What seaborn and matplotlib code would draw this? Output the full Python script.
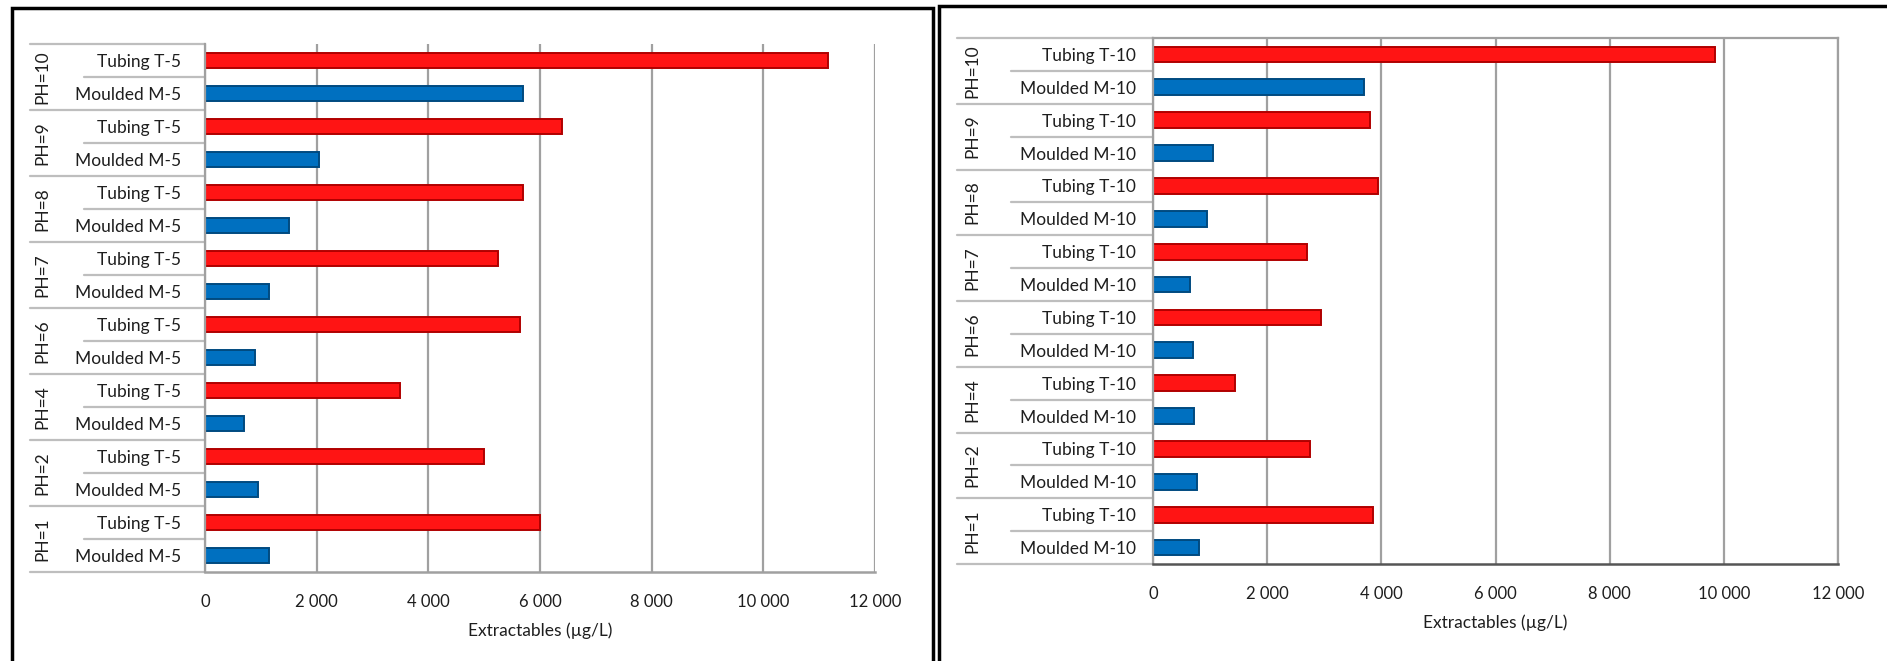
import matplotlib
matplotlib.use("Agg")
import matplotlib.pyplot as plt
from matplotlib.patches import Rectangle
from matplotlib.colors import to_hex
from matplotlib.ticker import FuncFormatter
import seaborn as sns
import pandas as pd

# --- data ---
ph_levels = ["PH=10", "PH=9", "PH=8", "PH=7", "PH=6", "PH=4", "PH=2", "PH=1"]

tubing_t5 = [11150, 6400, 5700, 5250, 5650, 3500, 5000, 6000]
moulded_m5 = [5700, 2050, 1500, 1150, 900, 700, 950, 1150]

tubing_t10 = [9850, 3800, 3950, 2700, 2950, 1430, 2750, 3850]
moulded_m10 = [3700, 1050, 950, 650, 700, 720, 770, 800]

x_ticks = [0, 2000, 4000, 6000, 8000, 10000, 12000]
x_label = "Extractables (\u00b5g/L)"

RED = "#FF1414"
BLUE = "#0070C0"
EDGE = {to_hex(RED): "#B00000", to_hex(BLUE): "#004A80"}
GRID = "#A0A0A0"
SEP = "#BEBEBE"
TXT = "#1E1E1E"


def build_frame(tubing, moulded, t_name, m_name):
    rows = []
    for ph, t, m in zip(ph_levels, tubing, moulded):
        rows.append({"row": f"{ph}|T", "ph": ph, "material": "Tubing",
                     "label": t_name, "value": t})
        rows.append({"row": f"{ph}|M", "ph": ph, "material": "Moulded",
                     "label": m_name, "value": m})
    return pd.DataFrame(rows)


def draw_panel(ax, df, lab_pad, ph_x, grp_x, sub_x, boxed):
    order = list(df["row"])
    sns.barplot(data=df, x="value", y="row", hue="material", order=order,
                palette={"Tubing": RED, "Moulded": BLUE}, dodge=False,
                width=0.48, saturation=1, legend=False, ax=ax)
    # darker rim, like the shaded side of the original 3-D bars
    for patch in ax.patches:
        fc = to_hex(patch.get_facecolor())
        patch.set_edgecolor(EDGE.get(fc, fc))
        patch.set_linewidth(1.4)

    n = len(order)
    ax.set_xlim(0, 12000)
    ax.set_ylim(n - 0.5, -0.5)
    ax.set_xticks(x_ticks)
    ax.xaxis.set_major_formatter(FuncFormatter(lambda v, p: f"{int(v):,}".replace(",", " ")))
    ax.grid(axis="x", color=GRID, linewidth=1.6)
    ax.grid(axis="y", visible=False)
    ax.set_axisbelow(True)

    ax.set_yticks(range(n))
    ax.set_yticklabels(df["label"], fontsize=12.5, color=TXT)
    ax.tick_params(axis="y", length=0, pad=lab_pad)
    ax.tick_params(axis="x", length=6, width=1.2, color=GRID, pad=10,
                   labelsize=12, labelcolor=TXT, direction="out")
    ax.set_ylabel("")
    ax.set_xlabel(x_label, fontsize=12.5, color=TXT, labelpad=9)

    for side in ["top", "right"]:
        ax.spines[side].set_visible(boxed)
        ax.spines[side].set_color(GRID)
        ax.spines[side].set_linewidth(1.6)
    ax.spines["left"].set_color(GRID)
    ax.spines["left"].set_linewidth(1.6)
    ax.spines["bottom"].set_color("#555555" if boxed else GRID)
    ax.spines["bottom"].set_linewidth(1.8)

    tr = ax.get_yaxis_transform()
    # group separators and pH labels
    for i, ph in enumerate(ph_levels):
        top = 2 * i - 0.5
        ax.plot([grp_x, 0], [top, top], transform=tr, color=SEP, lw=1.6, clip_on=False)
        ax.plot([sub_x, 0], [top + 1, top + 1], transform=tr, color=SEP, lw=1.6, clip_on=False)
        ax.text(ph_x, top + 1, ph, transform=tr, rotation=90, ha="center", va="center",
                fontsize=12.5, color=TXT)
    ax.plot([grp_x, 0], [n - 0.5, n - 0.5], transform=tr, color=SEP, lw=1.6, clip_on=False)


sns.set_theme(style="white")
plt.rcParams["font.family"] = ["Lato", "DejaVu Sans"]

fig = plt.figure(figsize=(18.87, 6.61), dpi=100)
W, H = 1887, 661

ax_l = fig.add_axes([205 / W, 1 - 572 / H, 670 / W, 528 / H])
ax_r = fig.add_axes([1153 / W, 1 - 564 / H, 685 / W, 526 / H])

df_5 = build_frame(tubing_t5, moulded_m5, "Tubing T-5", "Moulded M-5")
df_10 = build_frame(tubing_t10, moulded_m10, "Tubing T-10", "Moulded M-10")

draw_panel(ax_l, df_5, lab_pad=17, ph_x=-163 / 670, grp_x=-175 / 670,
           sub_x=-121 / 670, boxed=False)
draw_panel(ax_r, df_10, lab_pad=12, ph_x=-181 / 685, grp_x=-196 / 685,
           sub_x=-142 / 685, boxed=True)

# panel frames
fig.add_artist(Rectangle((12 / W, -0.1), (933 - 12) / W, 1.1 - 8 / H,
                         transform=fig.transFigure, fill=False, ec="black", lw=2.5))
fig.add_artist(Rectangle((939 / W, -0.1), 0.6, 1.1 - 6 / H,
                         transform=fig.transFigure, fill=False, ec="black", lw=2.5))

fig.savefig("out.png", dpi=100, facecolor="white")
